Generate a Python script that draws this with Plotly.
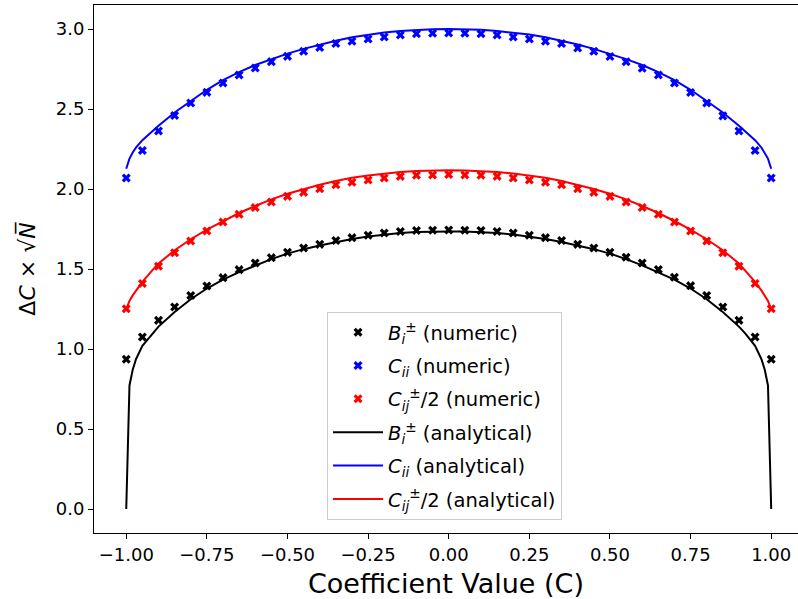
import plotly.graph_objects as go

# ---- numeric (markers) ----
c_numeric = [-1.00, -0.95, -0.90, -0.85, -0.80, -0.75, -0.70, -0.65, -0.60, -0.55,
             -0.50, -0.45, -0.40, -0.35, -0.30, -0.25, -0.20, -0.15, -0.10, -0.05,
             0.00, 0.05, 0.10, 0.15, 0.20, 0.25, 0.30, 0.35, 0.40, 0.45,
             0.50, 0.55, 0.60, 0.65, 0.70, 0.75, 0.80, 0.85, 0.90, 0.95, 1.00]

b_numeric = [0.936, 1.075, 1.179, 1.263, 1.334, 1.394, 1.446, 1.496, 1.538, 1.571,
             1.604, 1.631, 1.654, 1.678, 1.696, 1.711, 1.725, 1.734, 1.740, 1.742,
             1.744, 1.742, 1.740, 1.734, 1.725, 1.711, 1.696, 1.678, 1.654, 1.631,
             1.604, 1.573, 1.538, 1.497, 1.448, 1.396, 1.335, 1.263, 1.179, 1.075, 0.936]

cii_numeric = [2.069, 2.240, 2.363, 2.459, 2.538, 2.604, 2.663, 2.713, 2.756, 2.796,
               2.829, 2.861, 2.884, 2.909, 2.923, 2.938, 2.950, 2.963, 2.971, 2.973,
               2.975, 2.973, 2.971, 2.963, 2.950, 2.938, 2.923, 2.909, 2.882, 2.861,
               2.828, 2.795, 2.755, 2.712, 2.663, 2.603, 2.538, 2.457, 2.363, 2.240, 2.069]

cij_numeric = [1.252, 1.409, 1.517, 1.602, 1.675, 1.738, 1.794, 1.842, 1.884, 1.919,
               1.954, 1.979, 2.002, 2.026, 2.042, 2.056, 2.069, 2.079, 2.086, 2.088,
               2.090, 2.088, 2.086, 2.079, 2.069, 2.056, 2.042, 2.026, 2.001, 1.979,
               1.954, 1.919, 1.884, 1.842, 1.794, 1.738, 1.675, 1.602, 1.517, 1.409, 1.252]

# ---- analytical (lines) ----
c_line = [-1.00, -0.99, -0.98, -0.97, -0.95, -0.92, -0.90, -0.85, -0.80, -0.75,
          -0.70, -0.65, -0.60, -0.55, -0.50, -0.45, -0.40, -0.35, -0.30, -0.25,
          -0.20, -0.15, -0.10, -0.05, 0.00, 0.05, 0.10, 0.15, 0.20, 0.25,
          0.30, 0.35, 0.40, 0.45, 0.50, 0.55, 0.60, 0.65, 0.70, 0.75,
          0.80, 0.85, 0.90, 0.92, 0.95, 0.97, 0.98, 0.99, 1.00]

b_line = [0.000, 0.772, 0.870, 0.935, 1.020, 1.096, 1.140, 1.231, 1.311, 1.378,
          1.434, 1.480, 1.523, 1.562, 1.596, 1.624, 1.647, 1.669, 1.688, 1.703,
          1.715, 1.725, 1.731, 1.734, 1.735, 1.734, 1.731, 1.725, 1.715, 1.703,
          1.688, 1.669, 1.647, 1.624, 1.596, 1.562, 1.523, 1.480, 1.434, 1.378,
          1.311, 1.231, 1.140, 1.096, 1.020, 0.935, 0.870, 0.772, 0.000]

cii_line = [2.127, 2.190, 2.228, 2.258, 2.305, 2.362, 2.396, 2.478, 2.550, 2.620,
            2.680, 2.731, 2.775, 2.812, 2.846, 2.876, 2.903, 2.927, 2.948, 2.965,
            2.978, 2.988, 2.995, 2.999, 3.000, 2.999, 2.995, 2.988, 2.978, 2.965,
            2.948, 2.927, 2.903, 2.876, 2.846, 2.812, 2.775, 2.731, 2.680, 2.620,
            2.550, 2.478, 2.396, 2.362, 2.305, 2.258, 2.228, 2.190, 2.127]

cij_line = [1.250, 1.300, 1.335, 1.365, 1.420, 1.490, 1.534, 1.617, 1.686, 1.746,
            1.800, 1.850, 1.894, 1.935, 1.970, 2.000, 2.027, 2.050, 2.070, 2.085,
            2.097, 2.106, 2.112, 2.116, 2.117, 2.116, 2.112, 2.106, 2.097, 2.085,
            2.070, 2.050, 2.027, 2.000, 1.970, 1.935, 1.894, 1.850, 1.800, 1.746,
            1.686, 1.617, 1.534, 1.490, 1.420, 1.365, 1.335, 1.300, 1.250]

x_ticks = [-1.00, -0.75, -0.50, -0.25, 0.00, 0.25, 0.50, 0.75, 1.00]
x_tick_text = ["\u22121.00", "\u22120.75", "\u22120.50", "\u22120.25", "0.00", "0.25", "0.50", "0.75", "1.00"]
y_ticks = [0.0, 0.5, 1.0, 1.5, 2.0, 2.5, 3.0]
y_tick_text = ["0.0", "0.5", "1.0", "1.5", "2.0", "2.5", "3.0"]

label_B = "<i>B<sub>i</sub></i><sup>\u00b1</sup>"
label_Cii = "<i>C<sub>ii</sub></i>"
label_Cij = "<i>C<sub>ij</sub></i><sup>\u00b1</sup>/2"

FONT = "DejaVu Sans"
fig = go.Figure()

k = 0
for y, col, lab in [(b_numeric, "#000000", label_B),
                    (cii_numeric, "#0000ff", label_Cii),
                    (cij_numeric, "#ff0000", label_Cij)]:
    fig.add_trace(go.Scatter(
        x=c_numeric, y=y, mode="markers", name=lab + " (numeric)",
        marker=dict(symbol="x", size=8, color=col, line=dict(width=0)),
        legendgroup="g%d" % k))
    k += 1

for y, col, lab in [(b_line, "#000000", label_B),
                    (cii_line, "#0000ff", label_Cii),
                    (cij_line, "#ff0000", label_Cij)]:
    fig.add_trace(go.Scatter(
        x=c_line, y=y, mode="lines", name=lab + " (analytical)",
        line=dict(color=col, width=2), legendgroup="g%d" % k))
    k += 1

fig.update_layout(
    width=798, height=599,
    margin=dict(l=94, r=0, t=5, b=66, autoexpand=False),
    paper_bgcolor="white", plot_bgcolor="white",
    font=dict(family=FONT, color="black", size=18),
    showlegend=True,
    legend=dict(
        x=0.331, y=0.4186, xanchor="left", yanchor="top",
        bgcolor="rgba(255,255,255,0.8)", bordercolor="#cccccc", borderwidth=1,
        font=dict(family=FONT, size=19.5, color="black"),
        tracegroupgap=5, itemwidth=50, groupclick="toggleitem",
    ),
    xaxis=dict(
        range=[-1.1, 1.0831], tickmode="array", tickvals=x_ticks, ticktext=x_tick_text,
        showgrid=False, zeroline=False, showline=True, linecolor="black", linewidth=1,
        mirror=True, ticks="outside", ticklen=5, tickwidth=1, tickcolor="black",
        tickfont=dict(family=FONT, size=18), automargin=False,
        title=dict(text="Coefficient Value (C)", font=dict(family=FONT, size=27), standoff=10),
    ),
    yaxis=dict(
        range=[-0.15, 3.15], tickmode="array", tickvals=y_ticks, ticktext=y_tick_text,
        showgrid=False, zeroline=False, showline=True, linecolor="black", linewidth=1,
        mirror=False, ticks="outside", ticklen=5, tickwidth=1, tickcolor="black",
        tickfont=dict(family=FONT, size=18), automargin=False,
        title=dict(text="\u0394<i>C</i> \u00d7 \u221a<i>N\u0305</i>", font=dict(family=FONT, size=22), standoff=14),
    ),
)

fig.write_html("out.html", config={"displayModeBar": False},
               post_script="document.body.style.margin='0';document.body.style.overflow='hidden';")
